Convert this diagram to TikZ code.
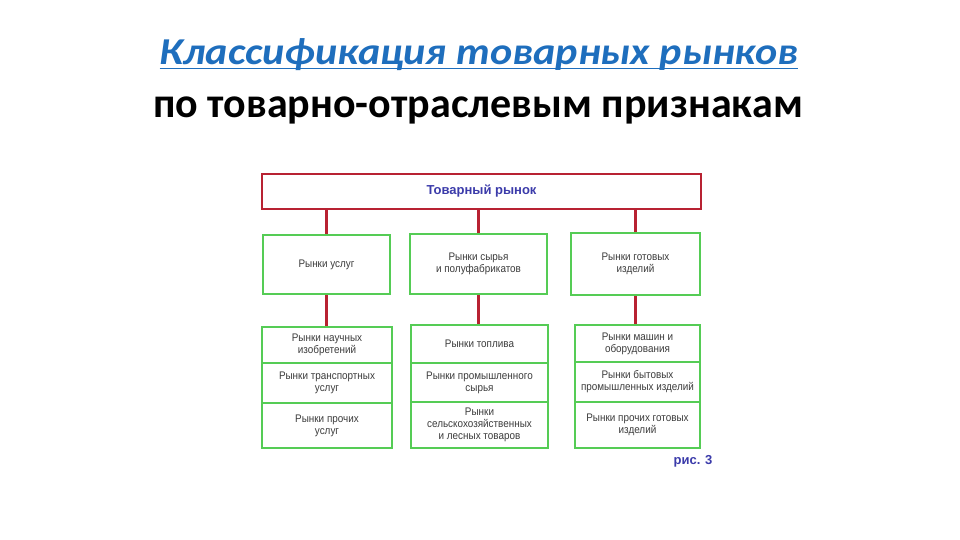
\documentclass[tikz,border=0pt]{standalone}
\usepackage{fontspec}
\setmainfont{Carlito}
\newfontfamily\arialf[FakeStretch=0.9]{Liberation Sans}
\newfontfamily\arialb{Liberation Sans}
\definecolor{redln}{HTML}{B82232}
\definecolor{greenb}{HTML}{55CC55}
\definecolor{titleblue}{HTML}{1E6EBD}
\definecolor{boxblue}{HTML}{3B3BAA}
\definecolor{txtgray}{HTML}{3C3C3C}
\tikzset{
  cellbox/.style={draw=greenb, line width=2pt, fill=white, inner sep=1pt, align=center,
    font=\arialf\fontsize{11}{12}\selectfont, text=txtgray},
  topbox/.style={draw=redln, line width=1.8pt, fill=white, align=center,
    font=\arialb\bfseries\fontsize{13}{15}\selectfont, text=boxblue},
  link/.style={draw=redln, line width=2.3pt},
}
\begin{document}
\begin{tikzpicture}[x=1pt,y=-1pt]
\useasboundingbox[fill=white] (0,0) rectangle (960,540);
% titles
\node[font=\bfseries\itshape\fontsize{38}{42}\selectfont, text=titleblue, anchor=base, inner sep=0pt] (t1) at (479,65) {\scalebox{1.11}[1]{Классификация товарных рынков}};
\draw[titleblue, line width=1.8pt] ([yshift=-3.5pt]t1.base west) -- ([yshift=-3.5pt]t1.base east);
\node[font=\bfseries\fontsize{42}{44}\selectfont, anchor=base, inner sep=0pt] (t2) at (478,118) {по товарно-отраслевым признакам};
% top box
\node[topbox, minimum width=439pt, minimum height=35pt] (top) at (481.5,191.5) {Товарный рынок};
% middle boxes
\node[cellbox, minimum width=127pt, minimum height=59pt] (m1) at (326.5,264.5) {Рынки услуг};
\node[cellbox, minimum width=137pt, minimum height=60pt] (m2) at (478.5,263.5) {Рынки сырья\\и полуфабрикатов};
\node[cellbox, minimum width=129pt, minimum height=62pt] (m3) at (635.5,264) {Рынки готовых\\изделий};
% stack 1
\node[cellbox, minimum width=130pt, minimum height=36pt] (a1) at (327,345) {Рынки научных\\изобретений};
\node[cellbox, minimum width=130pt, minimum height=40pt] (a2) at (327,383) {Рынки транспортных\\услуг};
\node[cellbox, minimum width=130pt, minimum height=45pt] (a3) at (327,425.5) {Рынки прочих\\услуг};
% stack 2
\node[cellbox, minimum width=137pt, minimum height=38pt] (b1) at (479.5,344) {Рынки топлива};
\node[cellbox, minimum width=137pt, minimum height=39pt] (b2) at (479.5,382.5) {Рынки промышленного\\сырья};
\node[cellbox, minimum width=137pt, minimum height=46pt] (b3) at (479.5,425) {Рынки\\сельскохозяйственных\\и лесных товаров};
% stack 3
\node[cellbox, minimum width=125pt, minimum height=37pt] (c1) at (637.5,343.5) {Рынки машин и\\оборудования};
\node[cellbox, minimum width=125pt, minimum height=40pt] (c2) at (637.5,382) {Рынки бытовых\\промышленных изделий};
\node[cellbox, minimum width=125pt, minimum height=46pt] (c3) at (637.5,425) {Рынки прочих готовых\\изделий};
% connectors
\draw[link] (top.south -| m1.north) -- (m1.north);
\draw[link] (top.south -| m2.north) -- (m2.north);
\draw[link] (top.south -| m3.north) -- (m3.north);
\draw[link] (m1.south) -- (m1.south |- a1.north);
\draw[link] (m2.south) -- (m2.south |- b1.north);
\draw[link] (m3.south) -- (m3.south |- c1.north);
% caption
\node[font=\arialb\bfseries\fontsize{13}{15}\selectfont, text=boxblue, anchor=east] (fig) at (716,461) {рис. 3};
\end{tikzpicture}
\end{document}
